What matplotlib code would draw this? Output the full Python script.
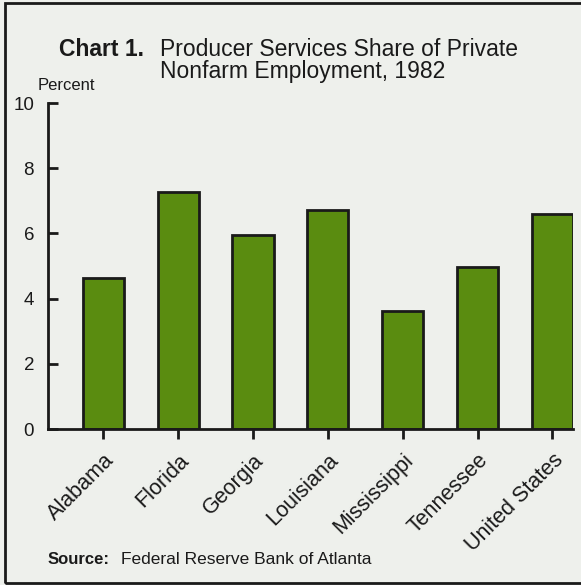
import matplotlib
matplotlib.use("Agg")
import matplotlib.pyplot as plt
from matplotlib.patches import Rectangle

# data
states = ["Alabama", "Florida", "Georgia", "Louisiana", "Mississippi", "Tennessee", "United States"]
share = [4.63, 7.27, 5.95, 6.72, 3.62, 4.97, 6.6]
yticks = [0, 2, 4, 6, 8, 10]

bg = "#eef0ec"
green = "#5a8c10"
ink = "#1a1a1a"

plt.rcParams["font.family"] = ["Liberation Sans", "DejaVu Sans"]

fig = plt.figure(figsize=(5.81, 5.85), dpi=100, facecolor=bg)
ax = fig.add_axes([48 / 581, 1 - 429 / 585, (573 - 48) / 581, (429 - 103) / 585])
ax.set_facecolor(bg)

x = list(range(len(states)))
ax.bar(x, share, width=0.55, color=green, edgecolor=ink, linewidth=2, zorder=2)

ax.set_xlim(-0.74, 6.275)
ax.set_ylim(0, 10)
ax.set_yticks(yticks)
ax.set_yticklabels([str(v) for v in yticks], fontsize=13.5, color=ink)
ax.set_xticks(x)
ax.set_xticklabels(states, rotation=45, ha="right", va="top", rotation_mode="anchor",
                   fontsize=15.5, color=ink)

for side in ["top", "right"]:
    ax.spines[side].set_visible(False)
for side in ["left", "bottom"]:
    ax.spines[side].set_linewidth(2)
    ax.spines[side].set_color(ink)
ax.tick_params(axis="y", direction="in", length=7, width=2, color=ink, pad=10)
ax.tick_params(axis="x", direction="out", length=7, width=2, color=ink, pad=8)

# title and notes
fig.text(59 / 581, 1 - 56 / 585, "Chart 1.", fontsize=16.5, fontweight="bold", color=ink, va="baseline")
fig.text(160 / 581, 1 - 56 / 585, "Producer Services Share of Private", fontsize=16.5, color=ink, va="baseline")
fig.text(160 / 581, 1 - 78 / 585, "Nonfarm Employment, 1982", fontsize=16.5, color=ink, va="baseline")
fig.text(38 / 581, 1 - 85 / 585, "Percent", fontsize=12, color=ink, va="center")
fig.text(48 / 581, 1 - 560 / 585, "Source:", fontsize=12, fontweight="bold", color=ink, va="center")
fig.text(121 / 581, 1 - 560 / 585, "Federal Reserve Bank of Atlanta", fontsize=12.5, color=ink, va="center")

# border around the exhibit
fig.patches.append(Rectangle((5 / 581, 1 - 583 / 585), 1.1, (583 - 3) / 585,
                             transform=fig.transFigure, fill=False, edgecolor=ink, linewidth=2))

fig.savefig("out.png", dpi=100, facecolor=bg)
